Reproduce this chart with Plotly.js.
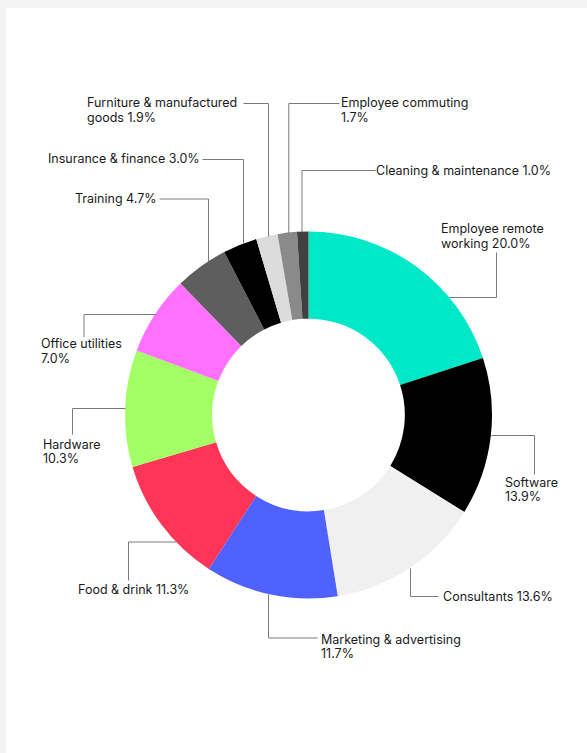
<!DOCTYPE html>
<html>
<head>
<meta charset="utf-8">
<script src="https://cdn.plot.ly/plotly-3.0.1.min.js"></script>
<style>
  html, body { margin: 0; padding: 0; background: #f4f4f4; }
  #chart { width: 587px; height: 753px; }
</style>
</head>
<body>
<div id="chart"></div>
<script>
// ---- data ----
const categories = [
  "Employee remote working", "Software", "Consultants", "Marketing & advertising",
  "Food & drink", "Hardware", "Office utilities", "Training",
  "Insurance & finance", "Furniture & manufactured goods", "Employee commuting",
  "Cleaning & maintenance"
];
const shares = [20.0, 13.9, 13.6, 11.7, 11.3, 10.3, 7.0, 4.7, 3.0, 1.9, 1.7, 1.0];
const sliceColors = [
  "#00E8C8", "#000000", "#F0F0F0", "#4F62FF", "#FF3558", "#A3FF66",
  "#FF70FF", "#5E5E5E", "#000000", "#DCDCDC", "#8A8A8A", "#404040"
];

// ---- layout (pixels) ----
const W = 587, H = 753;
const CX = 308.5, CY = 415, R = 183.5;

// per label: where to break words, text anchor point, leader route
// leader points: [x,y] fixed elbows, or {x|y, s} = intersection with pie edge
const labelLayout = [
  {brk: 2, tx: 441, ty: 229,   xa: "left",  leader: [[496,252],[496,297],{y:297,s:1}]},
  {brk: 1, tx: 505, ty: 482,   xa: "left",  leader: [{y:435,s:1},[534,435],[534,474]]},
  {brk: 0, tx: 443, ty: 596.5, xa: "left",  leader: [{x:410,s:1},[410,596],[438,596]]},
  {brk: 3, tx: 321, ty: 639,   xa: "left",  leader: [{x:268,s:1},[268,637.5],[317,637.5]]},
  {brk: 0, tx: 78,  ty: 589,   xa: "left",  leader: [{y:541.5,s:-1},[128,541.5],[128,580]]},
  {brk: 1, tx: 43,  ty: 444,   xa: "left",  leader: [{y:408,s:-1},[72,408],[72,434]]},
  {brk: 2, tx: 41,  ty: 343.5, xa: "left",  leader: [{y:314,s:-1},[83.5,314],[83.5,336.5]]},
  {brk: 0, tx: 157, ty: 198.5, xa: "right", leader: [[159,198.5],[208,198.5],{x:208,s:-1}]},
  {brk: 0, tx: 200, ty: 158.5, xa: "right", leader: [[202,159],[243,159],{x:243,s:-1}]},
  {brk: 3, tx: 87,  ty: 103,   xa: "left",  leader: [[243,103],[268,103],{x:268,s:-1}]},
  {brk: 2, tx: 341, ty: 103,   xa: "left",  leader: [{x:288.3,s:-1},[288.3,103],[339,103]]},
  {brk: 0, tx: 376, ty: 170.5, xa: "left",  leader: [{x:301.5,s:-1},[301.5,170],[375,170]]}
];
const LINE_GAP = 14.5;

function px(x) { return x / W; }
function py(y) { return 1 - y / H; }
function resolve(p) {
  if (Array.isArray(p)) return p;
  if (p.y !== undefined) {
    const dy = p.y - CY;
    return [CX + p.s * Math.sqrt(R * R - dy * dy), p.y];
  }
  const dx = p.x - CX;
  return [p.x, CY + p.s * Math.sqrt(R * R - dx * dx)];
}

const shapes = [{
  type: "rect", xref: "paper", yref: "paper", layer: "below",
  x0: px(6), x1: 1, y0: 0, y1: py(8),
  fillcolor: "#ffffff", line: {width: 0}
}];
const annotations = [];

categories.forEach((name, i) => {
  const cfg = labelLayout[i];
  const words = (name + " " + shares[i].toFixed(1) + "%").split(" ");
  const lines = cfg.brk > 0 ? [words.slice(0, cfg.brk).join(" "), words.slice(cfg.brk).join(" ")]
                            : [words.join(" ")];
  lines.forEach((t, k) => {
    annotations.push({
      xref: "paper", yref: "paper", x: px(cfg.tx), y: py(cfg.ty + k * LINE_GAP),
      xanchor: cfg.xa, yanchor: "middle", text: t, showarrow: false,
      borderpad: 0, borderwidth: 0, align: "left",
      font: {family: "Inter, 'Noto Sans', sans-serif", size: 12.5, color: "#1a1a1a"}
    });
  });
  const pts = cfg.leader.map(resolve);
  for (let k = 0; k < pts.length - 1; k++) {
    shapes.push({
      type: "line", xref: "paper", yref: "paper",
      x0: px(pts[k][0] + 0.5), y0: py(pts[k][1] + 0.5),
      x1: px(pts[k + 1][0] + 0.5), y1: py(pts[k + 1][1] + 0.5),
      line: {color: "#7a7a7a", width: 1}
    });
  }
});

const trace = {
  type: "pie",
  labels: categories,
  values: shares,
  hole: 0.525,
  sort: false,
  direction: "clockwise",
  rotation: 0,
  textinfo: "none",
  hoverinfo: "label+percent",
  marker: {colors: sliceColors, line: {width: 0}},
  domain: {x: [px(CX - R), px(CX + R)], y: [py(CY + R), py(CY - R)]},
  showlegend: false
};

Plotly.newPlot("chart", [trace], {
  width: W, height: H,
  margin: {l: 0, r: 0, t: 0, b: 0},
  paper_bgcolor: "#f4f4f4",
  showlegend: false,
  shapes: shapes,
  annotations: annotations
}, {displayModeBar: false, staticPlot: true});
</script>
</body>
</html>
